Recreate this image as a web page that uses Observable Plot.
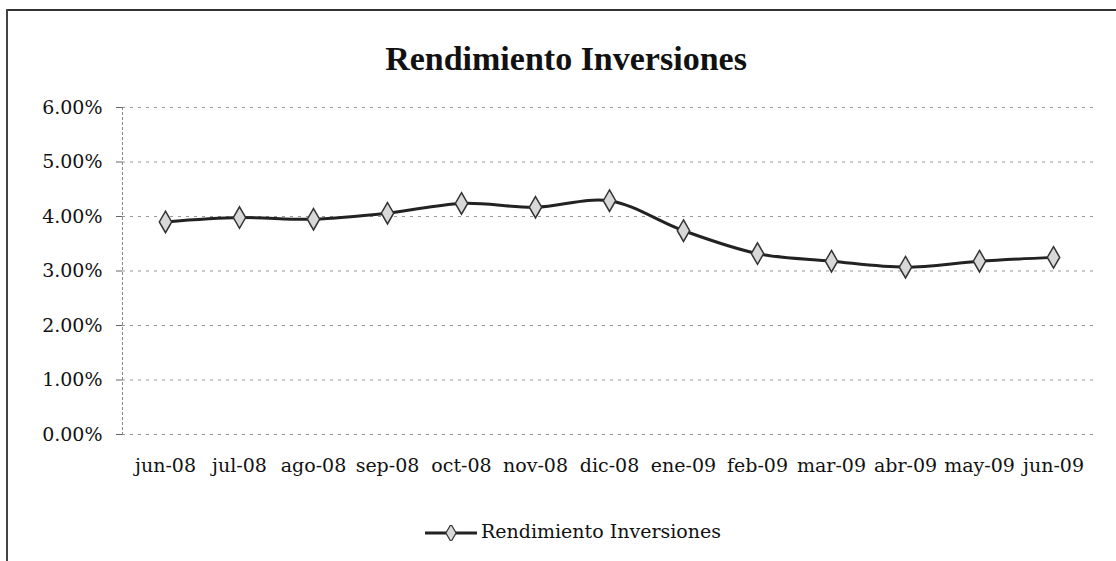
<!DOCTYPE html>
<html>
<head>
<meta charset="utf-8">
<script src="https://cdn.jsdelivr.net/npm/d3@7"></script>
<script src="https://cdn.jsdelivr.net/npm/@observablehq/plot@0.6"></script>
<style>
  html, body { margin: 0; padding: 0; background: #fff; overflow: hidden; }
  #wrap { position: relative; width: 1116px; height: 561px; overflow: hidden; background: #fff; }
  #frameTop { position: absolute; left: 6px; top: 9px; width: 1110px; height: 0; border-top: 2px solid #333; }
  #frameLeft { position: absolute; left: 6px; top: 9px; width: 0; height: 552px; border-left: 2px solid #444; }
  #title { position: absolute; left: 0; width: 1116px; top: 40px; text-align: center; padding-left: 16px; box-sizing: border-box;
           font-family: "Liberation Serif", serif; font-weight: bold; font-size: 34px; color: #111; }
  #chart { position: absolute; left: 0; top: 0; }
  #legend { position: absolute; left: 0; width: 1116px; top: 520px; text-align: center; padding-left: 28px; box-sizing: border-box;
            font-family: "DejaVu Serif", serif; font-size: 19px; color: #111; }
  #legend svg { vertical-align: middle; margin-right: 2px; }
</style>
</head>
<body>
<div id="wrap">
  <div id="frameTop"></div>
  <div id="frameLeft"></div>
  <div id="chart"></div>
  <div id="title">Rendimiento Inversiones</div>
  <div id="legend"></div>
</div>
<script>
const months = ["jun-08","jul-08","ago-08","sep-08","oct-08","nov-08","dic-08","ene-09","feb-09","mar-09","abr-09","may-09","jun-09"];
const rendimiento = [0.0390, 0.0398, 0.0395, 0.0406, 0.0424, 0.0417, 0.0429, 0.0374, 0.0332, 0.0318, 0.0307, 0.0318, 0.0325];
const yTicks = [0, 0.01, 0.02, 0.03, 0.04, 0.05, 0.06];
const seriesName = "Rendimiento Inversiones";

const data = months.map((m, i) => ({month: m, value: rendimiento[i]}));
const fmt = d3.format(".2%");

const chart = Plot.plot({
  width: 1116,
  height: 500,
  marginTop: 107,
  marginBottom: 66,
  marginLeft: 122,
  marginRight: 20,
  style: {fontFamily: "DejaVu Serif, serif", fontSize: "19px", color: "#111", background: "transparent"},
  x: {domain: months, type: "point", padding: 0.5, label: null},
  y: {domain: [0, 0.06], label: null},
  marks: [
    Plot.ruleY(yTicks, {stroke: "#999", strokeWidth: 1, strokeDasharray: "3,5"}),
    Plot.frame({anchor: "left", stroke: "#888", strokeDasharray: "2,3"}),
    Plot.axisY({ticks: yTicks, tickFormat: fmt, tickSize: 6, tickPadding: 14, stroke: "#666", fontSize: 19, fill: "#111"}),
    Plot.axisX({tickSize: 0, tickPadding: 24, fontSize: 19, fill: "#111"}),
    Plot.line(data, {x: "month", y: "value", stroke: "#222", strokeWidth: 3, curve: "catmull-rom"}),
    Plot.dot(data, {x: "month", y: "value", symbol: "diamond", r: 6.5, fill: "#d8d8d8", stroke: "#333", strokeWidth: 1.5})
  ]
});
document.getElementById("chart").appendChild(chart);

// legend
const leg = document.getElementById("legend");
const ns = "http://www.w3.org/2000/svg";
const ls = document.createElementNS(ns, "svg");
ls.setAttribute("width", 56); ls.setAttribute("height", 16);
const ln = document.createElementNS(ns, "line");
ln.setAttribute("x1", 2); ln.setAttribute("x2", 54); ln.setAttribute("y1", 8); ln.setAttribute("y2", 8);
ln.setAttribute("stroke", "#222"); ln.setAttribute("stroke-width", 3);
ls.appendChild(ln);
const dm = document.createElementNS(ns, "path");
dm.setAttribute("d", d3.symbol(d3.symbolDiamond, 90)());
dm.setAttribute("transform", "translate(28,8)");
dm.setAttribute("fill", "#d8d8d8"); dm.setAttribute("stroke", "#333"); dm.setAttribute("stroke-width", 1.2);
ls.appendChild(dm);
leg.appendChild(ls);
leg.appendChild(document.createTextNode(seriesName));
</script>
</body>
</html>
